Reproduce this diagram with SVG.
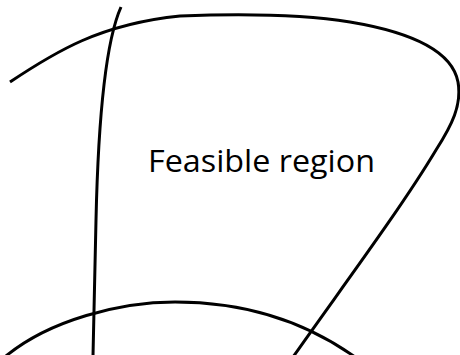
<svg xmlns="http://www.w3.org/2000/svg" width="460" height="355" viewBox="0 0 460 355">
<style>
.c{fill:none;stroke:#000;stroke-width:3;stroke-linecap:butt}
.t{font-family:"Open Sans","Liberation Sans",sans-serif;font-size:31px;fill:#000}
</style>
<rect width="460" height="355" fill="#fff"/>
<g id="connectors">
<path class="c" d="M10,82 C 55,52 100,24 180,16 C 230,14 300,14 350,22 C 410,32 452,50 458,82 C 462,105 452,125 436,150 C 400,210 340,290 293,357"/>
<path class="c" d="M121,7 C 104,45 98,130 96,220 L 93,356"/>
<path class="c" d="M6,356 C 50,320 120,302 175,302 C 240,302 300,318 355,357"/>
</g>
<g id="label">
<text class="t" x="148" y="172" textLength="227" lengthAdjust="spacingAndGlyphs">Feasible region</text>
</g>
</svg>
